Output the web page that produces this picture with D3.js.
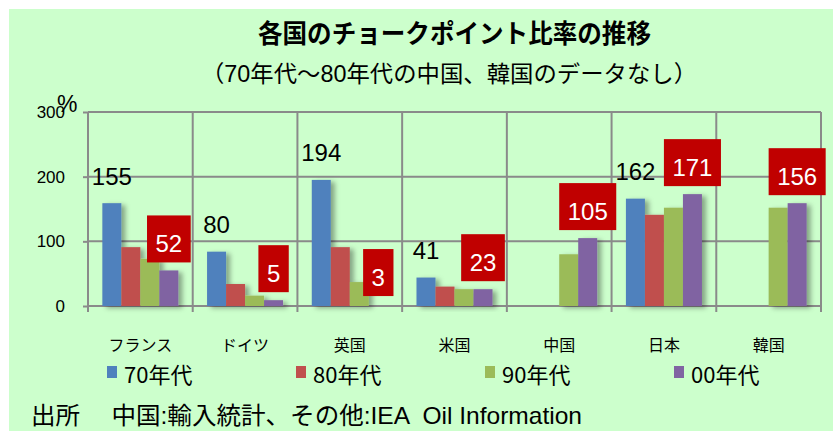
<!DOCTYPE html>
<html>
<head>
<meta charset="utf-8">
<script src="https://cdn.jsdelivr.net/npm/d3@7"></script>
<style>
  body { margin: 0; background: #fff; }
  svg { display: block; }
  text { font-family: "Liberation Sans", "Noto Sans CJK JP", sans-serif; }
</style>
</head>
<body>
<svg id="chart"></svg>
<script>
// categories and series
const categories = ["フランス", "ドイツ", "英国", "米国", "中国", "日本", "韓国"];
const series = ["70年代", "80年代", "90年代", "00年代"];
const colors = ["#4F81BD", "#C0504D", "#9BBB59", "#8064A2"];

// bar values (null = no data)
const v70 = [159, 84, 195, 44, null, 166, null];
const v80 = [91, 34, 91, 30, null, 141, null];
const v90 = [73, 16, 37, 26, 80, 152, 152];
const v00 = [55, 9, null, 26, 105, 173, 159];

// printed data labels
const labels70 = ["155", "80", "194", "41", null, "162", null];
const labels00 = ["52", "5", "3", "23", "105", "171", "156"];
const labels00Pos = [55, 9, 3, 26, 105, 173, 159]; // where the box sits

const yTicks = [0, 100, 200, 300];

const W = 833, H = 431;
const svg = d3.select("#chart").attr("width", W).attr("height", H);

const defs = svg.append("defs");
const shadow = defs.append("filter").attr("id", "shadow")
    .attr("x", "-20%").attr("y", "-10%").attr("width", "160%").attr("height", "130%");
shadow.append("feDropShadow")
    .attr("dx", 4).attr("dy", 2).attr("stdDeviation", 2.5)
    .attr("flood-color", "#000").attr("flood-opacity", 0.35);

// background
svg.append("rect")
    .attr("x", 9).attr("y", 9)
    .attr("width", W - 9).attr("height", H - 9)
    .attr("fill", "#CCFFCC");

// title
svg.append("text")
    .attr("x", 258).attr("y", 43)
    .attr("textLength", 393)
    .attr("lengthAdjust", "spacingAndGlyphs")
    .style("font-size", "26px")
    .style("font-weight", "bold")
    .text("各国のチョークポイント比率の推移");

svg.append("text")
    .attr("x", 201).attr("y", 82)
    .attr("textLength", 496)
    .attr("lengthAdjust", "spacingAndGlyphs")
    .style("font-size", "23px")
    .text("（70年代～80年代の中国、韓国のデータなし）");

const x = d3.scaleBand().domain(categories).range([88, 821]);
const bw = x.bandwidth();
const gap = bw * 0.137;
const x1 = d3.scaleBand().domain(series).range([gap, bw - gap]);
const y = d3.scaleLinear().domain([0, 300]).range([306, 112]);

const gridColor = "#8A8A8A";

// horizontal gridlines
svg.append("g")
    .selectAll("line")
    .data(yTicks)
    .join("line")
    .attr("x1", 88).attr("x2", 821)
    .attr("y1", d => y(d)).attr("y2", d => y(d))
    .attr("stroke", gridColor).attr("stroke-width", 2);

// vertical gridlines at category edges
const edges = categories.map(c => x(c)).concat([x.range()[1]]);
svg.append("g")
    .selectAll("line")
    .data(edges)
    .join("line")
    .attr("x1", d => d).attr("x2", d => d)
    .attr("y1", y(300)).attr("y2", 312)
    .attr("stroke", gridColor).attr("stroke-width", 2);

// y axis
const yAxis = svg.append("g")
    .attr("transform", "translate(88,0)")
    .call(d3.axisLeft(y).tickValues(yTicks).tickSize(5).tickPadding(18));
yAxis.select(".domain").remove();
yAxis.selectAll(".tick line").attr("stroke", gridColor).attr("stroke-width", 2);
yAxis.selectAll(".tick text")
    .style("font-size", "17px")
    .style("font-family", "Liberation Sans, sans-serif")
    .attr("fill", "#000");

svg.append("text")
    .attr("x", 57).attr("y", 112)
    .style("font-size", "23px")
    .text("%");

// x axis (category labels)
const xAxis = svg.append("g")
    .attr("transform", "translate(0,306)")
    .call(d3.axisBottom(x).tickSize(0).tickPadding(34));
xAxis.select(".domain").remove();
xAxis.selectAll(".tick text")
    .style("font-size", "16px")
    .style("font-family", "Noto Sans CJK JP, sans-serif")
    .attr("fill", "#000");

// bars
const allVals = [v70, v80, v90, v00];
const rows = categories.map((c, i) => ({
    cat: c,
    bars: series.map((s, k) => ({ s, k, v: allVals[k][i] })).filter(b => b.v != null)
}));

const groups = svg.append("g")
    .selectAll("g")
    .data(rows)
    .join("g")
    .attr("transform", d => `translate(${x(d.cat)},0)`)
    .attr("filter", "url(#shadow)");

groups.selectAll("rect")
    .data(d => d.bars)
    .join("rect")
    .attr("x", d => x1(d.s))
    .attr("width", x1.bandwidth())
    .attr("y", d => y(d.v))
    .attr("height", d => y(0) - y(d.v))
    .attr("fill", d => colors[d.k]);

// black labels on 70s bars
svg.append("g")
    .selectAll("text")
    .data(categories.map((c, i) => ({ c, t: labels70[i], v: v70[i] })).filter(d => d.t != null))
    .join("text")
    .attr("x", d => x(d.c) + x1(series[0]) + x1.bandwidth() / 2)
    .attr("y", d => y(d.v) - 18.5)
    .attr("text-anchor", "middle")
    .style("font-size", "24px")
    .attr("fill", "#000")
    .text(d => d.t);

// red boxed labels on 00s bars
const boxes = svg.append("g")
    .selectAll("g")
    .data(categories.map((c, i) => ({ c, t: labels00[i], v: labels00Pos[i] })))
    .join("g")
    .attr("transform", d => `translate(${x(d.c) + x1(series[3]) + x1.bandwidth() / 2},${y(d.v) - 8 - 47})`);

boxes.append("rect").attr("fill", "#C00000").attr("height", 47);
const boxText = boxes.append("text")
    .attr("x", 0).attr("y", 37)
    .attr("text-anchor", "middle")
    .style("font-size", "24px")
    .attr("fill", "#fff")
    .text(d => d.t);
boxText.each(function () {
    const w = this.getComputedTextLength() + 17;
    d3.select(this.parentNode).select("rect").attr("x", -w / 2).attr("width", w);
});

// legend
const legend = svg.append("g")
    .selectAll("g")
    .data(series)
    .join("g")
    .attr("transform", (d, i) => `translate(${107 + i * 189},366)`);
legend.append("rect")
    .attr("width", 10).attr("height", 12)
    .attr("fill", (d, i) => colors[i]);
legend.append("text")
    .attr("x", 17).attr("y", 17)
    .style("font-size", "22px")
    .style("font-family", "Noto Sans CJK JP, sans-serif")
    .text(d => d);

// source
svg.append("text")
    .attr("x", 31).attr("y", 424)
    .attr("textLength", 551)
    .attr("lengthAdjust", "spacingAndGlyphs")
    .style("font-size", "24px")
    .style("white-space", "pre")
    .text("出所\u3000 中国:輸入統計、その他:IEA  Oil Information");
</script>
</body>
</html>
